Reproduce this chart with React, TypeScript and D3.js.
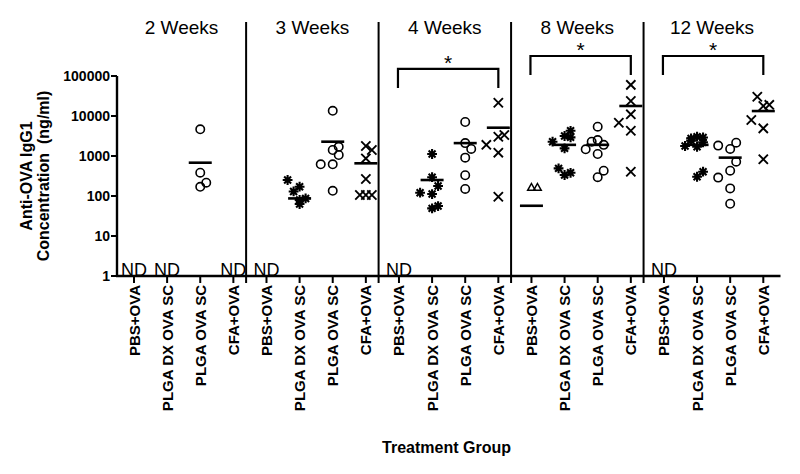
import React from "react";
import * as d3 from "d3";

// ---------- data ----------
const weeks = ["2 Weeks", "3 Weeks", "4 Weeks", "8 Weeks", "12 Weeks"];
const groups = ["PBS+OVA", "PLGA DX OVA SC", "PLGA OVA SC", "CFA+OVA"];
const symbols = ["triangle", "asterisk", "circle", "cross"];
const yTicks = [1, 10, 100, 1000, 10000, 100000];

// [value (ng/ml), dodge lane] per week, per group
const week2 = [
  [],
  [],
  [[4650, 0], [383, 0], [215, 1], [170, 0]],
  [],
];
const week3 = [
  [],
  [[251, -2], [171, 0], [130, -1], [80, 0], [87, 1], [63, 0]],
  [[13500, 0], [1413, 0], [1700, 1], [1060, 1], [620, -2], [620, 0], [135, 0]],
  [[1778, 0], [1413, 1], [870, 0], [266, 0], [106, -1], [106, 0], [106, 1]],
];
const week4 = [
  [],
  [[1122, 0], [295, 0], [178, 1], [121, -2], [112, 0], [49, 0], [56, 1]],
  [[7080, 0], [2100, 0], [1500, 1], [910, 0], [330, 0], [150, 0]],
  [[21500, 0], [3030, 0], [3350, 1], [1900, -2], [1210, 0], [96, 0]],
];
const week8 = [
  [[165, 0], [165, 1]],
  [[2280, -2], [3160, 0], [4270, 1], [2930, 1], [1550, 0], [490, -1], [335, 0], [380, 1]],
  [[5400, 0], [2280, -1], [2500, 0], [1900, 1], [1470, -2], [1122, 0], [430, 1], [295, 0]],
  [[60000, 0], [23700, 0], [11000, 0], [6800, -2], [4270, 0], [405, 0]],
];
const week12 = [
  [],
  [[1780, -2], [2760, -1], [3030, 0], [2900, 1], [2200, 1], [1700, 0], [2400, -1], [405, 1], [303, 0]],
  [[1820, -2], [1500, 0], [2150, 1], [720, 1], [430, 0], [288, -2], [155, 0], [64, 0]],
  [[30200, -1], [17800, 0], [19000, 1], [7940, -2], [4900, 0], [830, 0]],
];
const points = [week2, week3, week4, week8, week12];

// group means (null = no line drawn)
const means = [
  [null, null, 680, null],
  [null, 87, 2280, 656],
  [null, 251, 2100, 5100],
  [57, 1900, 1900, 17800],
  [null, 1900, 910, 13300],
];

// not detected flags
const notDetected = [
  [true, true, false, true],
  [true, false, false, false],
  [true, false, false, false],
  [false, false, false, false],
  [true, false, false, false],
];

// significance brackets: week index, bracket top value, bracket leg end value
const sigWeeks = [2, 3, 4];
const sigTop = [150000, 316000, 316000];
const sigLeg = [50000, 106000, 106000];

// ---------- layout ----------
const W = 800;
const H = 474;
const FONT = "'Liberation Sans', Arial, Helvetica, sans-serif";

export default function App() {
  const keys: string[] = [];
  weeks.forEach((w, wi) => groups.forEach((g, gi) => keys.push(`${wi}-${gi}`)));

  const x = d3.scalePoint<string>().domain(keys).range([134, 763.3]);
  const step = x.step();
  const y = d3.scaleLog().domain([1, 100000]).range([276, 76]);

  const axisLeft = 117;
  const axisRight = 780.5;
  const axisY = y(1);
  const lane = 6;
  const halfMean = 11.5;

  const sepX = weeks.slice(0, -1).map((_, wi) => (x(`${wi}-3`) as number) + step * 0.385);
  const panelBounds = [axisLeft, ...sepX, axisRight];

  const drawSymbol = (sym: string, cx: number, cy: number, key: string) => {
    if (sym === "circle") {
      return <circle key={key} cx={cx} cy={cy} r={4.2} fill="none" stroke="#000" strokeWidth={1.6} />;
    }
    if (sym === "cross") {
      const s = 4.6;
      return (
        <path key={key} d={`M${cx - s},${cy - s}L${cx + s},${cy + s}M${cx - s},${cy + s}L${cx + s},${cy - s}`}
          stroke="#000" strokeWidth={1.9} fill="none" />
      );
    }
    if (sym === "asterisk") {
      const s = 4.9;
      const d = s * Math.SQRT1_2;
      return (
        <path key={key}
          d={`M${cx - s},${cy}L${cx + s},${cy}M${cx},${cy - s}L${cx},${cy + s}M${cx - d},${cy - d}L${cx + d},${cy + d}M${cx - d},${cy + d}L${cx + d},${cy - d}`}
          stroke="#000" strokeWidth={2.1} fill="none" />
      );
    }
    // triangle
    const s = 3.8;
    return (
      <path key={key} d={`M${cx},${cy - s}L${cx + s},${cy + s * 0.8}L${cx - s},${cy + s * 0.8}Z`}
        fill="none" stroke="#000" strokeWidth={1.5} />
    );
  };

  return (
    <svg width={W} height={H} style={{ position: "absolute", left: 0, top: 0, background: "#fff" }}
      fontFamily={FONT}>
      <rect x={0} y={0} width={W} height={H} fill="#fff" />

      {/* panel separators */}
      {sepX.map((sx, i) => (
        <line key={`sep${i}`} x1={sx} x2={sx} y1={22} y2={axisY + 7} stroke="#000" strokeWidth={2} />
      ))}

      {/* panel titles */}
      {weeks.map((w, wi) => (
        <text key={`t${wi}`} x={(panelBounds[wi] + panelBounds[wi + 1]) / 2} y={33.5}
          textAnchor="middle" fontSize={19}>{w}</text>
      ))}

      {/* y axis */}
      <line x1={axisLeft} x2={axisLeft} y1={y(100000)} y2={axisY} stroke="#000" strokeWidth={2.4} />
      {yTicks.map((t) => (
        <g key={`yt${t}`}>
          <line x1={axisLeft - 6} x2={axisLeft} y1={y(t)} y2={y(t)} stroke="#000" strokeWidth={2} />
          <text x={axisLeft - 7} y={y(t)} dy="0.36em" textAnchor="end" fontSize={14} fontWeight="bold">{t}</text>
        </g>
      ))}

      {/* y label */}
      <g transform={`translate(32,${(y(1) + y(100000)) / 2}) rotate(-90)`}>
        <text textAnchor="middle" fontSize={16} fontWeight="bold">Anti-OVA IgG1</text>
      </g>
      <g transform={`translate(49,${(y(1) + y(100000)) / 2}) rotate(-90)`}>
        <text textAnchor="middle" fontSize={16} fontWeight="bold" style={{ whiteSpace: "pre" }}>
          {"Concentration\u00a0\u00a0(ng/ml)"}
        </text>
      </g>

      {/* x axis */}
      <line x1={axisLeft - 1} x2={axisRight} y1={axisY} y2={axisY} stroke="#000" strokeWidth={2.4} />
      {keys.map((k) => {
        const gi = +k.split("-")[1];
        const px = x(k) as number;
        return (
          <g key={`xt${k}`}>
            <line x1={px} x2={px} y1={axisY} y2={axisY + 7} stroke="#000" strokeWidth={2} />
            <g transform={`translate(${px + 5.5},${axisY + 9}) rotate(-90)`}>
              <text textAnchor="end" fontSize={15} fontWeight="bold">{groups[gi]}</text>
            </g>
          </g>
        );
      })}

      {/* x title */}
      <text x={446.5} y={453} textAnchor="middle" fontSize={16} fontWeight="bold">Treatment Group</text>

      {/* ND labels */}
      {notDetected.map((row, wi) =>
        row.map((nd, gi) =>
          nd ? (
            <text key={`nd${wi}-${gi}`} x={x(`${wi}-${gi}`) as number} y={axisY} textAnchor="middle"
              fontSize={18}>ND</text>
          ) : null
        )
      )}

      {/* points */}
      {points.map((wk, wi) =>
        wk.map((pts, gi) =>
          pts.map(([v, l], pi) =>
            drawSymbol(symbols[gi], (x(`${wi}-${gi}`) as number) + l * lane, y(v), `p${wi}-${gi}-${pi}`)
          )
        )
      )}

      {/* mean lines */}
      {means.map((row, wi) =>
        row.map((m, gi) => {
          if (m == null) return null;
          const px = x(`${wi}-${gi}`) as number;
          return (
            <line key={`m${wi}-${gi}`} x1={px - halfMean} x2={px + halfMean} y1={y(m)} y2={y(m)}
              stroke="#000" strokeWidth={2.6} />
          );
        })
      )}

      {/* significance brackets */}
      {sigWeeks.map((wi, i) => {
        const x1 = (x(`${wi}-0`) as number) - 1;
        const x2 = x(`${wi}-3`) as number;
        const yt = y(sigTop[i]);
        const yl = y(sigLeg[i]);
        return (
          <g key={`sig${wi}`}>
            <path d={`M${x1},${yl}L${x1},${yt}L${x2},${yt}L${x2},${yl}`} fill="none" stroke="#000"
              strokeWidth={2.2} />
            <text x={(x1 + x2) / 2} y={yt + 1} textAnchor="middle" fontSize={21}>*</text>
          </g>
        );
      })}
    </svg>
  );
}
